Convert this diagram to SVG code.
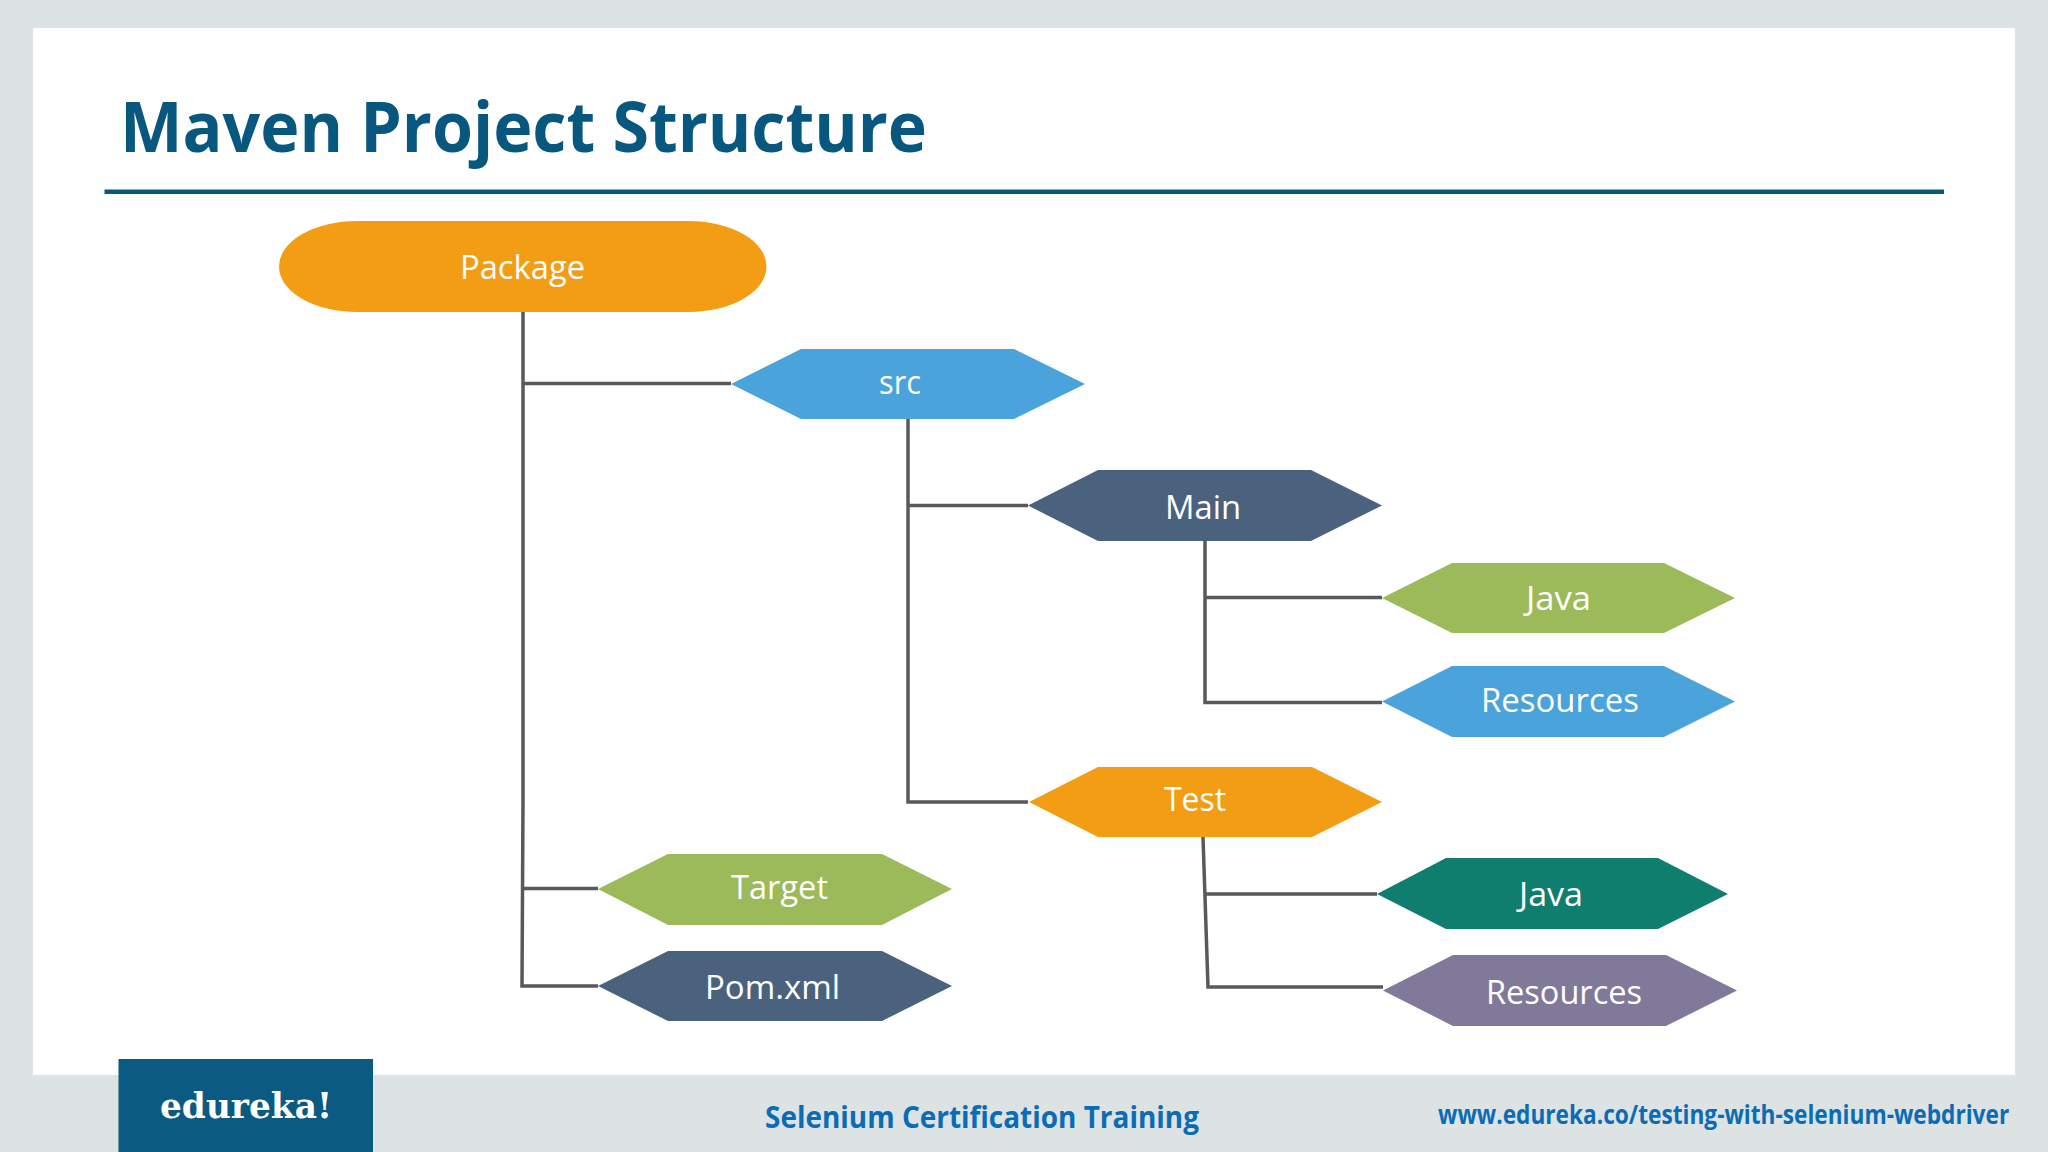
<svg xmlns="http://www.w3.org/2000/svg" width="2048" height="1152" viewBox="0 0 2048 1152">
<style>
.lbl{font-family:"Open Sans","Noto Sans",sans-serif;font-size:32px;fill:#fff}
.ttl{font-family:"Open Sans","Noto Sans",sans-serif;font-weight:700;fill:#07577f;font-size:70px}
.ft{font-family:"Open Sans","Noto Sans",sans-serif;font-weight:700;fill:#0b6cb6}
.c{fill:none;stroke:#595959;stroke-width:3.500}
.orange{fill:#f29d14}.blue{fill:#4aa3da}.navy{fill:#4a627e}.green{fill:#9cba59}.teal{fill:#107e6f}.purple{fill:#80799a}
</style>
<rect width="2048" height="1152" fill="#dde3e2"/>
<rect x="33" y="28" width="1982" height="1047" fill="#fff"/>
<text class="ttl" x="120" y="152" textLength="807" lengthAdjust="spacingAndGlyphs">Maven Project Structure</text>
<rect x="104.500" y="189.500" width="1839.500" height="4.500" fill="#07577f"/>
<g id="connectors">
<path class="c" d="M523 312V800L522 986H598"/>
<path class="c" d="M523 383.500H731M522.500 888.500H598"/>
<path class="c" d="M908 419V802H1028M908 505.500H1028"/>
<path class="c" d="M1205 541V702.500H1382M1205 597.500H1382"/>
<path class="c" d="M1203 837L1208 987H1383M1205 894H1377"/>
</g>
<g id="package"><rect class="orange" x="279" y="221" width="487.500" height="91" rx="78" ry="45.500"/><text class="lbl" x="460" y="279" textLength="125" lengthAdjust="spacingAndGlyphs">Package</text></g>
<g id="src"><polygon class="blue" points="731,384 801,349 1014,349 1085,384 1014,419 801,419"/><text class="lbl" x="879" y="394" textLength="42" lengthAdjust="spacingAndGlyphs">src</text></g>
<g id="main"><polygon class="navy" points="1028,505.500 1098,470 1311,470 1382,505.500 1311,541 1098,541"/><text class="lbl" x="1165" y="519" textLength="76" lengthAdjust="spacingAndGlyphs">Main</text></g>
<g id="java-main"><polygon class="green" points="1382,598 1452,563 1664,563 1735,598 1664,633 1452,633"/><text class="lbl" x="1526" y="610" textLength="65" lengthAdjust="spacingAndGlyphs">Java</text></g>
<g id="resources-main"><polygon class="blue" points="1382,701.500 1452,666 1664,666 1735,701.500 1664,737 1452,737"/><text class="lbl" x="1481" y="712" textLength="158" lengthAdjust="spacingAndGlyphs">Resources</text></g>
<g id="test"><polygon class="orange" points="1029,802 1098,767 1312,767 1382,802 1312,837 1098,837"/><text class="lbl" x="1164" y="811" textLength="62" lengthAdjust="spacingAndGlyphs">Test</text></g>
<g id="java-test"><polygon class="teal" points="1377,894 1446,858 1658,858 1728,894 1658,929 1446,929"/><text class="lbl" x="1519" y="906" textLength="64" lengthAdjust="spacingAndGlyphs">Java</text></g>
<g id="resources-test"><polygon class="purple" points="1383,990.500 1453,955 1666,955 1737,990.500 1666,1026 1453,1026"/><text class="lbl" x="1486" y="1004" textLength="156" lengthAdjust="spacingAndGlyphs">Resources</text></g>
<g id="target"><polygon class="green" points="598,889 668,854 882,854 952,889 882,925 668,925"/><text class="lbl" x="731" y="899" textLength="97" lengthAdjust="spacingAndGlyphs">Target</text></g>
<g id="pom"><polygon class="navy" points="598,986 668,951 882,951 952,986 882,1021 668,1021"/><text class="lbl" x="705" y="999" textLength="135" lengthAdjust="spacingAndGlyphs">Pom.xml</text></g>
<rect x="118.500" y="1059" width="254.500" height="93" fill="#0a5a82"/>
<text x="160" y="1118" font-family="'DejaVu Serif',serif" font-weight="700" font-size="36" fill="#fff" textLength="172" lengthAdjust="spacingAndGlyphs">edureka!</text>
<text class="ft" x="765" y="1128" font-size="31" textLength="434" lengthAdjust="spacingAndGlyphs">Selenium Certification Training</text>
<text class="ft" transform="translate(1438 1124) scale(.8 1)" font-size="26" textLength="714" lengthAdjust="spacingAndGlyphs">www.edureka.co/testing-with-selenium-webdriver</text>
</svg>
